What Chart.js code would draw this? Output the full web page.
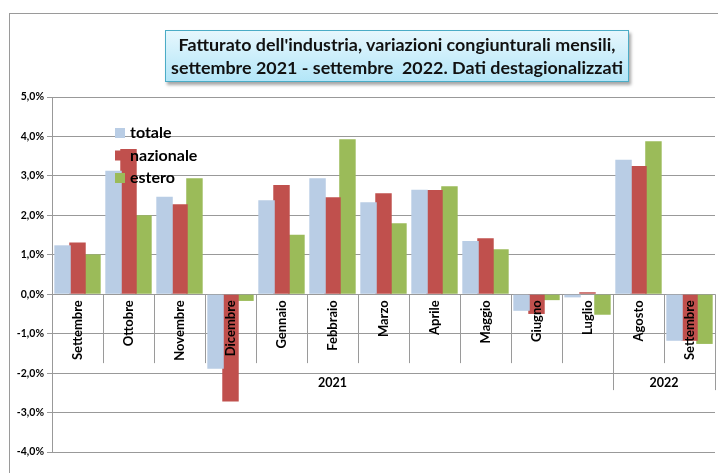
<!DOCTYPE html>
<html>
<head>
<meta charset="utf-8">
<script src="https://cdn.jsdelivr.net/npm/chart.js@4"></script>
<style>
  body { margin: 0; background: #fff; }
  #wrap { position: relative; width: 718px; height: 473px; }
  #titolo {
    position: absolute; left: 165px; top: 30px; width: 462px; height: 50px;
    border: 1.5px solid #4BACC6;
    background: linear-gradient(to bottom, #E6F7FD, #B3E6F8);
    box-shadow: 2px 3px 3px rgba(0,0,0,0.35);
    font-family: Lato, sans-serif; font-weight: bold; font-size: 17.9px;
    line-height: 23px; text-align: center; color: #111; white-space: nowrap;
    display: flex; align-items: center; justify-content: center;
  }
</style>
</head>
<body>
<div id="wrap">
  <canvas id="myChart" width="718" height="473"></canvas>
  <div id="titolo"><div>Fatturato dell'industria, variazioni congiunturali mensili,<br>settembre 2021 - settembre&nbsp; 2022. Dati destagionalizzati</div></div>
</div>
<script>
const mesi = ['Settembre','Ottobre','Novembre','Dicembre','Gennaio','Febbraio','Marzo','Aprile','Maggio','Giugno','Luglio','Agosto','Settembre']
const anni = [{label:'2021', da:0, a:10}, {label:'2022', da:11, a:12}]

const totale    = [1.24, 3.13, 2.47, -1.89, 2.38, 2.94, 2.33, 2.65, 1.35, -0.42, -0.08, 3.41, -1.18]
const nazionale = [1.31, 3.68, 2.28, -2.72, 2.77, 2.46, 2.56, 2.64, 1.42, -0.50,  0.05, 3.25, -1.18]
const estero    = [1.01, 2.00, 2.94, -0.17, 1.51, 3.93, 1.80, 2.74, 1.14, -0.15, -0.52, 3.88, -1.26]

const colori = ['#B9CDE5', '#C0504D', '#9BBB59']
const font = 'Lato, sans-serif'

// cornice, etichette dei mesi e anni, legenda
const disegni = {
  id: 'disegni',
  beforeDraw(chart) {
    const c = chart.ctx
    c.save()
    c.strokeStyle = '#9a9a9a'
    c.lineWidth = 1
    c.strokeRect(9.5, 13.5, 800, 600)
    c.restore()
  },
  afterDatasetsDraw(chart) {
    const c = chart.ctx
    const x = chart.scales.x
    const y = chart.scales.y
    const y0 = y.getPixelForValue(0)
    const yAnno = y.getPixelForValue(-2)
    const passo = x.getPixelForValue(1) - x.getPixelForValue(0)
    c.save()
    c.strokeStyle = '#9a9a9a'
    c.lineWidth = 1
    for (let i = 1; i <= mesi.length; i++) {
      const xb = Math.round(x.getPixelForValue(i) - passo / 2) + 0.5
      const fine = (i == 11 || i == mesi.length) ? yAnno + 17 : yAnno - 10
      c.beginPath(); c.moveTo(xb, y0); c.lineTo(xb, fine); c.stroke()
    }
    c.fillStyle = '#000'
    c.font = 'bold 13px ' + font
    c.textAlign = 'right'
    c.textBaseline = 'middle'
    mesi.forEach((m, i) => {
      c.save()
      c.translate(x.getPixelForValue(i), y0 + 6)
      c.rotate(-Math.PI / 2)
      c.fillText(m, 0, 0)
      c.restore()
    })
    c.font = 'bold 12.5px ' + font
    c.textAlign = 'center'
    anni.forEach(a => {
      const xm = (x.getPixelForValue(a.da) + x.getPixelForValue(a.a)) / 2
      c.fillText(a.label, xm, yAnno + 10)
    })
    // legenda
    c.font = 'bold 16px ' + font
    c.textAlign = 'left'
    chart.data.datasets.forEach((d, i) => {
      const yy = 133 + i * 22.5
      c.fillStyle = d.backgroundColor
      c.fillRect(115, yy - 5, 10, 10)
      c.fillStyle = '#000'
      c.fillText(d.label, 130, yy)
    })
    c.restore()
  }
}

const ctx = document.getElementById('myChart')

new Chart(ctx, {
  type: 'bar',
  data: {
    labels: mesi,
    datasets: [
      { label: 'totale', data: totale, backgroundColor: colori[0] },
      { label: 'nazionale', data: nazionale, backgroundColor: colori[1] },
      { label: 'estero', data: estero, backgroundColor: colori[2] }
    ]
  },
  options: {
    responsive: false,
    animation: false,
    layout: { padding: { left: 0, top: 97, right: 3, bottom: 21 } },
    datasets: { bar: { categoryPercentage: 0.88, barPercentage: 1.1 } },
    plugins: { legend: { display: false }, tooltip: { enabled: false } },
    scales: {
      x: { display: false },
      y: {
        min: -4, max: 5,
        afterFit(s) { s.width = 52 },
        ticks: {
          stepSize: 1,
          color: '#000',
          font: { family: font, weight: 'bold', size: 10.5 },
          callback: v => v.toFixed(1).replace('.', ',') + '%'
        },
        grid: { color: '#999999', tickLength: 5 },
        border: { color: '#999999' }
      }
    }
  },
  plugins: [disegni]
})
</script>
</body>
</html>
